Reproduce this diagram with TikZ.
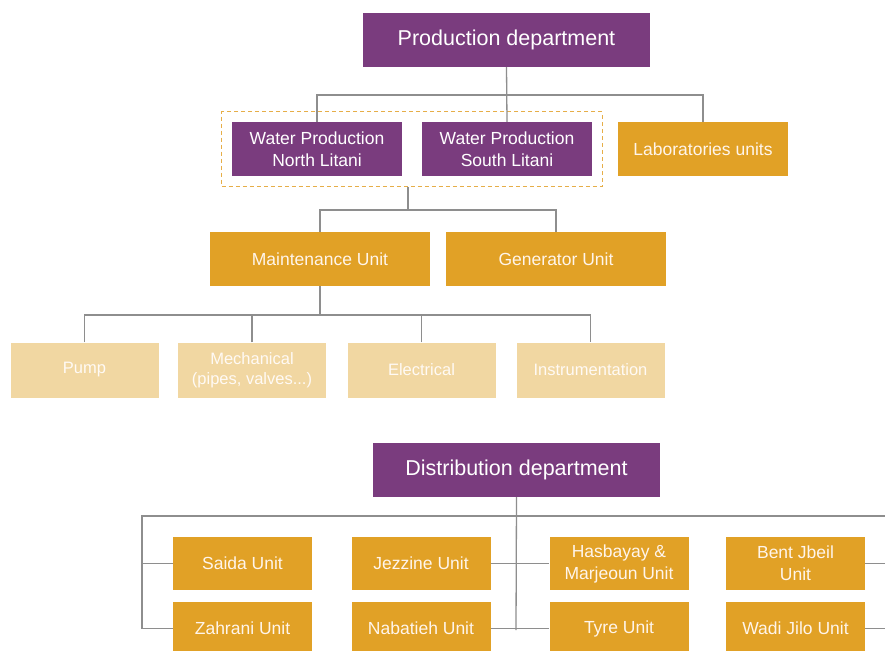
\documentclass[tikz,border=0pt]{standalone}
\usepackage{fontspec}
\setmainfont{Liberation Sans}
\usetikzlibrary{fit}
\definecolor{deptpurple}{HTML}{7A3C7E}
\definecolor{unitorange}{HTML}{E1A126}
\definecolor{sublight}{HTML}{F1D7A2}
\definecolor{linkgray}{HTML}{8E8E8E}
\definecolor{grpdash}{HTML}{E6AE48}
\tikzset{
  dept/.style={fill=deptpurple, text=white, minimum width=287pt, minimum height=54pt,
    inner sep=0pt, font=\fontsize{21.5}{24}\selectfont},
  pbox/.style={fill=deptpurple, text=white, minimum width=170pt, minimum height=54pt,
    inner sep=0pt, align=center, font=\fontsize{17.5}{22}\selectfont},
  ubox/.style={fill=unitorange, text=white!92!orange, minimum width=#1, minimum height=54pt,
    inner sep=0pt, align=center, font=\fontsize{17.5}{22}\selectfont},
  ubox/.default=170pt,
  lbox/.style={fill=sublight, text=white!96!orange, minimum width=148pt, minimum height=55pt,
    inner sep=0pt, align=center, font=\fontsize{16.5}{20}\selectfont},
  dbox/.style={fill=unitorange, text=white!92!orange, minimum width=139pt, minimum height=53pt,
    inner sep=0pt, align=center, font=\fontsize{17.5}{22}\selectfont},
  link/.style={draw=linkgray, line width=1.3pt},
  grp/.style={draw=grpdash, dashed, dash pattern=on 4pt off 3pt, line width=1.1pt, inner sep=10pt}
}
\begin{document}
\begin{tikzpicture}[x=1pt, y=-1pt]
\useasboundingbox (0,0) rectangle (885,650);
\clip (0,0) rectangle (885,650);
\fill[white] (0,0) rectangle (885,650);

% ---------- production department ----------
\node[dept] (pd) at (506.5,40) {Production department};
\node[pbox] (nl) at (317,149) {Water Production\\North Litani};
\node[pbox] (sl) at (507,149) {Water Production\\South Litani};
\node[ubox] (lab) at (703,149) {Laboratories units};
\node[grp, fit=(nl)(sl)] (wp) {};

\coordinate (pbus) at (507,95);
\draw[link] (pd.south) -- (sl.north);
\draw[link] (nl.north) |- (pbus) -| (lab.north);

\node[ubox=220pt] (mu) at (320,259) {Maintenance Unit};
\node[ubox=220pt] (gu) at (556,259) {Generator Unit};
\coordinate (wbus) at (408,210);
\draw[link] (wp.south -| wbus) -- (wbus);
\draw[link] (mu.north) |- (wbus) -| (gu.north);

\node[lbox] (pump) at (84.5,370) {Pump};
\node[lbox] (mech) at (252,370) {Mechanical\\(pipes, valves...)};
\node[lbox] (elec) at (421.5,370) {Electrical};
\node[lbox] (inst) at (590.5,370) {Instrumentation};
\coordinate (mbus) at (320,315);
\draw[link] (mu.south) -- (mbus);
\draw[link] (pump.north) |- (mbus) -| (inst.north);
\draw[link] (mech.north) -- (mech.north |- mbus);
\draw[link] (elec.north) -- (elec.north |- mbus);

% ---------- distribution department ----------
\node[dept] (dd) at (516.5,470) {Distribution department};

\node[dbox] (saida) at (242.5,563.5) {Saida Unit};
\node[dbox] (jezz) at (421,563.5) {Jezzine Unit};
\node[dbox] (hasb) at (619,563.5) {Hasbayay \&\\Marjeoun Unit};
\node[dbox] (bent) at (795.5,563.5) {Bent Jbeil\\Unit};
\node[dbox] (zahr) at (242.5,628.5) {Zahrani Unit};
\node[dbox] (naba) at (421,628.5) {Nabatieh Unit};
\node[dbox] (tyre) at (619,628.5) {Tyre Unit};
\node[dbox] (wadi) at (795.5,628.5) {Wadi Jilo Unit};

\coordinate (dbus) at (516,516);
\coordinate (lbus) at (142,516);
\coordinate (rbus) at (895,516);
\coordinate (dmid) at (516,630);
\draw[link] (dd.south) -- (dmid);
\draw[link] (zahr.west) -| (lbus) -- (rbus) -- (rbus |- wadi.west) -- (wadi.east);
\draw[link] (saida.west) -- (saida.west -| lbus);
\draw[link] (jezz.east) -- (hasb.west);
\draw[link] (naba.east) -- (tyre.west);
\draw[link] (bent.east) -- (bent.east -| rbus);
\end{tikzpicture}
\end{document}
